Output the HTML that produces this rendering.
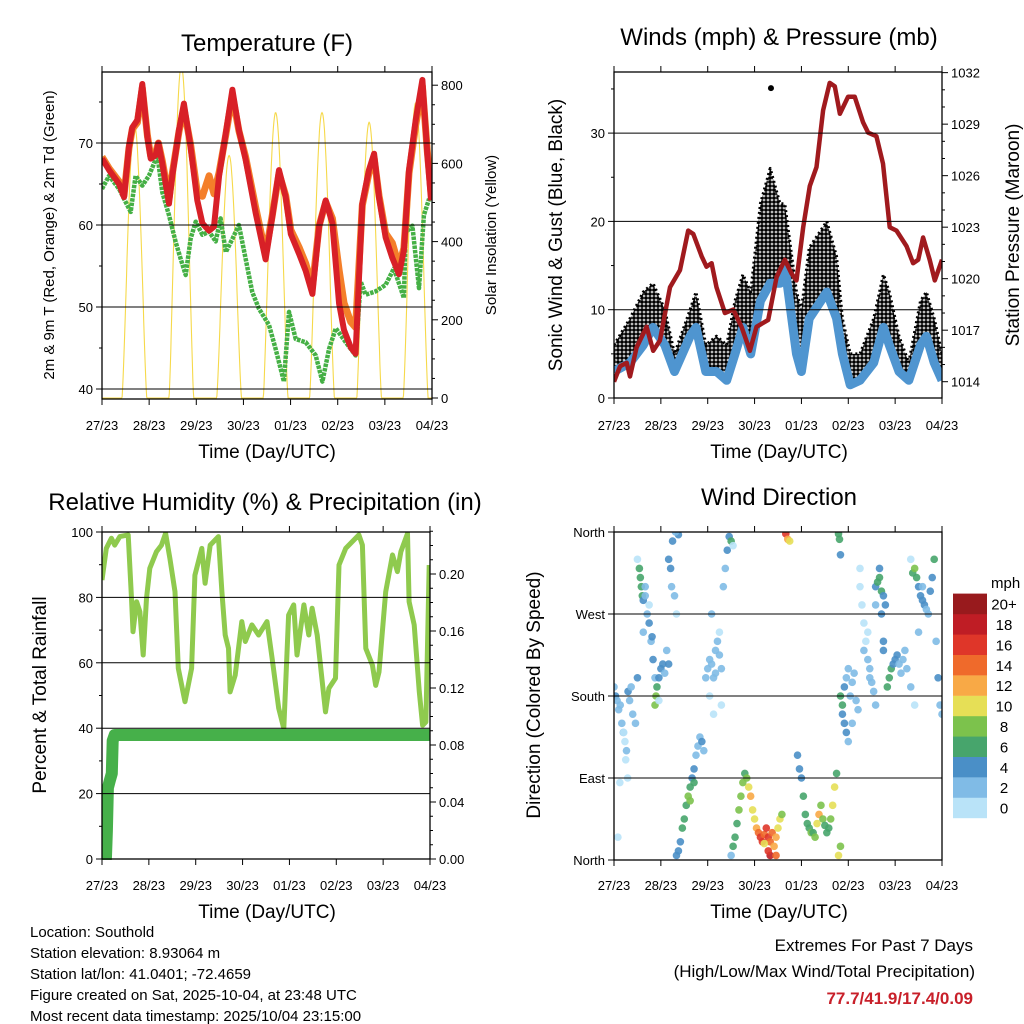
<!DOCTYPE html>
<html><head><meta charset="utf-8">
<style>
html,body{margin:0;padding:0;background:#fff;}
svg{display:block;font-family:"Liberation Sans",Arial,sans-serif;}
</style></head>
<body>
<svg id="root" width="1024" height="1024" viewBox="0 0 1024 1024" xmlns="http://www.w3.org/2000/svg">
<defs>
<clipPath id="cT"><rect x="102" y="72" width="330" height="327"/></clipPath>
<clipPath id="cW"><rect x="614" y="72" width="328" height="326"/></clipPath>
<clipPath id="cR"><rect x="102" y="532" width="328" height="328"/></clipPath>
<clipPath id="cD"><rect x="614" y="532" width="328" height="328"/></clipPath>
<pattern id="dots" width="4" height="4" patternUnits="userSpaceOnUse"><rect width="4" height="4" fill="#fff"/><circle cx="2" cy="2" r="1.9" fill="#000"/></pattern>
</defs>
<g id="layer"></g>
<text x="267" y="51" font-size="24" text-anchor="middle">Temperature (F)</text>
<text x="779" y="45" font-size="24" text-anchor="middle">Winds (mph) &amp; Pressure (mb)</text>
<text x="265" y="510" font-size="24" text-anchor="middle">Relative Humidity (%) &amp; Precipitation (in)</text>
<text x="779" y="505" font-size="24" text-anchor="middle">Wind Direction</text>
<text x="267" y="458" font-size="19" text-anchor="middle">Time (Day/UTC)</text>
<text x="779" y="458" font-size="19" text-anchor="middle">Time (Day/UTC)</text>
<text x="267" y="918" font-size="19" text-anchor="middle">Time (Day/UTC)</text>
<text x="779" y="918" font-size="19" text-anchor="middle">Time (Day/UTC)</text>
<text transform="translate(54,235) rotate(-90)" font-size="15" text-anchor="middle">2m &amp; 9m T (Red, Orange) &amp; 2m Td (Green)</text>
<text transform="translate(496,235) rotate(-90)" font-size="15" text-anchor="middle">Solar Insolation (Yellow)</text>
<text transform="translate(562,235) rotate(-90)" font-size="19" text-anchor="middle">Sonic Wind &amp; Gust (Blue, Black)</text>
<text transform="translate(1019,235) rotate(-90)" font-size="19" text-anchor="middle">Station Pressure (Maroon)</text>
<text transform="translate(46,695) rotate(-90)" font-size="19" text-anchor="middle">Percent &amp; Total Rainfall</text>
<text transform="translate(540,695) rotate(-90)" font-size="19" text-anchor="middle">Direction (Colored By Speed)</text>
<text x="991" y="588" font-size="15">mph</text>
<g font-size="15">
<text x="30" y="937">Location: Southold</text>
<text x="30" y="958">Station elevation: 8.93064 m</text>
<text x="30" y="979">Station lat/lon: 41.0401; -72.4659</text>
<text x="30" y="1000">Figure created on Sat, 2025-10-04, at 23:48 UTC</text>
<text x="30" y="1021">Most recent data timestamp: 2025/10/04 23:15:00</text>
</g>
<text x="973" y="951" font-size="17" text-anchor="end">Extremes For Past 7 Days</text>
<text x="975" y="977" font-size="17" text-anchor="end">(High/Low/Max Wind/Total Precipitation)</text>
<text x="973" y="1004" font-size="17" font-weight="bold" fill="#c8202a" text-anchor="end">77.7/41.9/17.4/0.09</text>
</svg>
<script>
// ---------- data ----------
const dayLabels = ["27/23","28/23","29/23","30/23","01/23","02/23","03/23","04/23"];
const tempHours = [0,3.6,8.7,11.2,13.7,15.4,18,20.5,23.1,24.8,27.3,28.7,30.7,34.1,35.8,39.2,41.7,45.1,48.5,51.1,54.5,57,59.6,63,66.4,69.7,73.1,78.2,83.3,86.7,90.1,93.5,96.1,100.3,103.7,107.1,110.5,113.9,117.3,120.7,123.2,126.6,129.1,132.5,135.9,138.5,141,144.4,147.8,151.2,153.7,156.3,159.7,163.1,165.6,167.5];
const temp2m = [68.1,66.7,65,63.4,69.5,71.9,72.8,77.2,70.7,68.1,68.5,70,67.5,62.6,66,71.6,74.8,69.5,63,60.2,59.3,59.8,66,71.2,76.5,71.6,68,61.5,55.8,61,66.7,63.4,58.9,56.5,54.4,51.6,59.8,63,60.2,50.4,47.2,45.1,44.3,62.6,66.7,68.7,63.4,58.5,56,54,56.9,66.7,72.8,77.7,68.7,63];
const temp9m = [68.3,66.9,65.3,63.6,69.3,71.7,72.5,76.7,70.9,68.4,68.8,70,67.8,63.2,66.3,71.4,74.2,69.8,64,63.5,66,63.8,66.4,71,75.8,71.5,68.3,62.2,56.5,61.2,66.3,63.6,59.4,57.3,55.3,52.5,59.9,62.8,60.8,54.5,50.5,48.2,47.5,62.4,66.3,68.2,63.6,59,57.8,55,57.2,66.3,72.2,76.9,69,64];
const dewHours = [0,3.6,8.7,11.2,14.6,17.1,20.5,23.9,28.2,30.7,34.1,37.5,40,42.6,45.1,47.7,51.1,54.5,57.9,60.4,63,66.4,69.7,73.1,76.5,79.9,85,88.4,92.6,95.2,98.6,103.7,108.8,112.2,115.6,119,124.1,129.1,131.7,134.2,139.3,144.4,148.6,153.7,154.6,158,161.4,163.9,166.5];
const dewPoint = [64.4,66,64.4,63.2,61.6,66,64.8,66,68.5,64,61.2,57.9,55.9,53.9,58.3,60.4,58.8,59.2,58,60.8,56.7,58.3,60,55.9,51.8,49.8,47.8,44.9,40.9,49.4,46.1,45.7,44.1,40.9,44.9,47.4,45.7,44.1,53.1,51.5,51.9,52.7,54.7,51.1,59.1,59.9,52.3,61.2,63.2];
const solarPeakHours = [16.5,40.4,64.7,88.4,112,136,159.7];
const solarPeaks = [700,850,620,730,730,705,755];

const windHours = [0,8.2,15,20,26,31,39,42,47,52.5,57.7,62,66,70,75,80,85,87.5,93.5,96,100,109,114,117,121,126,133,138,141,146,151,157,160,164,168];
const windSpeed = [3,4,6,8,6,3,7,8,3,3,2,5,8,5,11,13,13,15,5,3,9,12,9,5,1.5,2,4,8,6,3,2,6,7,4,2];
const windGust = [6,9,12,13,10,5,10,12,6,7,6,11,14,12,22,26,22,22,12,10,17,20,16,9,5,5,9,14,12,7,4,11,12,9,5];
const gustOutlierHour = [80.4];
const gustOutlierValue = [35.1];
const presHours = [0,3.1,6.5,8.2,11.6,16.7,20.1,23.5,28.7,33.8,38,40.6,44.9,47.4,50,52.5,56.8,61.1,65.3,69.6,73,79,83.3,87.5,90.9,93.5,96.9,100.3,103.7,107.1,110.5,113.1,115.7,119.9,123.3,127.6,130.2,134.4,137.8,141.2,144.7,149.8,153.2,155.8,158.3,161.7,164.3,168];
const pressure = [1014,1014.9,1015.1,1014.3,1016,1017.2,1015.8,1016.4,1019.5,1020.5,1022.8,1022.6,1021.3,1020.7,1020.9,1019.5,1018,1018.2,1017.2,1015.8,1017.2,1017.6,1020.1,1021.1,1020.3,1019.9,1023,1025.4,1026.5,1029.8,1031.4,1031.2,1029.6,1030.6,1030.6,1029.1,1028.5,1028.3,1026.7,1023,1022.8,1021.9,1020.9,1021.1,1022.4,1021.1,1019.9,1021.1];

const rhHours = [0,2.2,4.8,6.5,9.1,13.4,15.1,15.9,17.7,19.4,21.1,22.8,24.5,27.9,30.5,32.6,34.8,37.4,39.1,42.5,45.9,47.6,51.1,52.8,55.4,59.6,61.4,63.1,64.8,65.6,68.2,71.6,73.4,76.8,80.2,84.5,87.1,90.5,93.1,95.6,98.2,99.9,103.4,105.9,107.6,110.2,114.5,116.2,119.6,121.4,124.8,131.6,133.4,135.1,138.5,140.2,141.9,145.3,148.8,151.3,153.1,156.5,157.3,159.9,162.5,164.2,165.9,167.6];
const rhValues = [85.3,95,98.1,96,98.6,99.1,79.7,69.5,78.7,75.6,62.4,79.7,88.9,94,96,99.6,91.9,81.7,58.3,48.1,58.3,86.8,95,84.3,96,98.6,81.7,68.5,64.4,51.1,56.2,72.6,66.5,71.6,68.5,72.6,61.4,46.1,39.9,74.6,77.7,62.4,77.7,68.5,76.7,68.5,45,52.2,55.3,89.9,95,99.1,96,64.4,59.3,53.1,57.2,81.7,93,87.9,94,99.5,78.7,71.6,51.1,40.9,41.9,89.9];
const precipHours = [0,2,2.5,3,4,5,5.5,6.5,168];
const precipTotal = [0,0,0.02,0.05,0.055,0.06,0.083,0.087,0.087];

const dirHours = [0,0.8,1.6,2.4,3.2,4,4.8,5.6,6.4,7.2,8,8.8,9.6,6,7,2,3,5,11,12,
 12,13,13.5,14,14.5,15,16,17,18,15,16,18,19,19.5,20,21,
 21,21.5,22,23,24,25,26,27,28,23,
 28,29,29.5,30,31,32,33,31.5,
 32,33,34,35,36,37,38,39,40,41,42,43,44,45,46,41,39,
 47,48,49,50,51,52,53,54,55,54,52,50,56,57,58,59,60,61,49,51,55,
 60,61,62,63,64,65,66,67,68,69,70,71,72,73,
 74,75,76,77,78,79,80,81,82,83,84,85,86,80,79,83,77,88,89,90,
 94,95,96,97,98,99,100,101,102,103,104,105,106,107,108,109,110,111,112,113,114,115,116,
 115,115.5,116,
 116,117,117,118,119,120,121,122,123,124,125,118,119,120,122,
 126,127,128,129,130,131,132,133,128,130,126,131,134,
 134,135,136,137,138,139,136,134,137,138,138,
 140,141,142,143,144,145,146,147,148,149,150,152,154,
 152,153,154,155,156,157,158,159,160,161,162,163,164,158,156,
 165,166,167,168];
const dirDegrees = [190,180,175,165,170,150,140,130,120,185,175,190,160,110,90,25,85,140,150,200,
 330,320,310,300,290,285,290,270,260,250,300,280,240,245,220,200,
 170,180,190,200,210,215,205,230,215,175,
 330,320,300,350,290,270,357,360,
 5,10,20,35,45,60,70,80,90,100,115,125,135,130,120,85,65,
 200,210,220,215,200,230,240,250,210,225,205,270,300,320,340,355,350,345,180,160,170,
 5,15,25,40,55,70,85,95,90,80,70,55,45,35,
 30,25,20,28,35,25,20,30,15,25,35,45,50,5,10,5,18,358,352,350,
 115,100,90,70,50,40,35,30,30,25,40,50,60,45,38,30,35,45,60,80,95,5,15,
 358,352,335,
 180,170,160,150,140,130,180,195,205,175,165,190,200,210,150,
 300,280,260,240,220,200,195,185,230,250,320,210,170,
 300,305,310,295,290,280,320,280,270,240,230,
 190,200,210,215,220,225,215,205,220,230,210,190,170,
 330,315,320,310,300,290,285,280,275,270,295,310,330,300,250,
 240,200,170,160];
const dirSpeeds = [3,4,3,2,3,2,2,1,2,4,3,3,2,1,1,1,1,1,2,4,
 1,6,7,7,6,5,2,3,4,2,3,1,3,4,4,2,
 8,8,7,5,4,4,2,2,4,1,
 4,4,2,4,2,1,4,3,
 4,4,5,6,6,7,8,6,5,4,3,2,2,4,2,6,8,
 2,3,2,3,2,2,2,1,3,3,3,2,3,3,4,4,6,1,1,1,1,
 2,6,7,7,8,9,8,6,9,10,12,10,10,12,
 15,17,16,15,16,16,14,15,12,13,11,10,9,18,17,14,11,16,12,11,
 4,4,5,6,7,6,7,8,7,9,11,12,9,8,7,6,7,9,10,11,6,10,9,
 7,6,4,
 6,6,5,4,4,3,3,2,2,2,2,5,3,2,2,
 1,1,1,1,2,2,3,3,2,1,1,3,2,
 5,6,7,6,5,4,4,3,4,4,4,
 7,7,6,5,4,4,3,3,2,3,2,2,1,
 1,7,8,6,5,4,4,4,3,3,4,5,6,3,2,
 3,4,3,2];
const cbLabels = ["0","2","4","6","8","10","12","14","16","18","20+"];
const cbColors = ["#b9e3f8","#80bbe6","#4a8fc7","#47a56c","#7cc24c","#e6df56","#f8a946","#ef6a2b","#df3629","#bf1d25","#981a1d"];

// ---------- helpers ----------
const NS = "http://www.w3.org/2000/svg";
const layer = document.getElementById("layer");
function el(tag, attrs, parent) {
  const e = document.createElementNS(NS, tag);
  for (const k in attrs) e.setAttribute(k, attrs[k]);
  (parent || layer).appendChild(e);
  return e;
}
function xScale(x0, x1) { return h => x0 + h / 168 * (x1 - x0); }
function pts(xs, ys, fx, fy) { return xs.map((h, i) => fx(h).toFixed(1) + "," + fy(ys[i]).toFixed(1)).join(" "); }

const xT = xScale(102, 432), xW = xScale(614, 942), xR = xScale(102, 430), xD = xScale(614, 942);
const yTemp = v => 389 - (v - 40) * 8.2;
const ySolar = v => 398 - v * 0.391;
const yWind = v => 398 - v * 8.83;
const yPres = v => 381.7 - (v - 1014) * 17.17;
const yRH = v => 859 - v * 3.27;
const yPrec = v => 859 - v * 1425;
const yDir = v => 860 - v / 360 * 328;
const speedColor = s => cbColors[Math.min(10, Math.floor(s / 2))];

function axes(name, x0, y0, x1, y1, xs, leftTicks, leftMinor, leftFn, leftLab, gridVals, rightTicks, rightMinor, rightFn, rightLab, labelY) {
  const g = el("g", {});
  
  
  gridVals.forEach(v => {
    const ln = el("line", {x1: x0, x2: x1, y1: leftFn(v), y2: leftFn(v), stroke: "#000", "stroke-width": 1}, g);
    
    
  });
  const r = el("rect", {x: x0, y: y0, width: x1 - x0, height: y1 - y0, fill: "none", stroke: "#000", "stroke-width": 1.3}, g);
  
  
  for (let d = 0; d <= 7; d++) {
    const x = xs(d * 24);
    el("line", {x1: x, x2: x, y1: y1, y2: y1 + 6, stroke: "#000"}, g);
    el("line", {x1: x, x2: x, y1: y0, y2: y0 - 6, stroke: "#000"}, g);
    const t = el("text", {x: x, y: labelY, "font-size": 13, "text-anchor": "middle"}, g);
    
    
    t.textContent = dayLabels[d];
  }
  leftTicks.forEach((v, i) => {
    const y = leftFn(v);
    el("line", {x1: x0 - 6, x2: x0, y1: y, y2: y, stroke: "#000"}, g);
    const t = el("text", {x: x0 - 9, y: y + 5, "font-size": 13, "text-anchor": "end"}, g);
    
    
    t.textContent = leftLab[i];
  });
  leftMinor.forEach(v => el("line", {x1: x0 - 3, x2: x0, y1: leftFn(v), y2: leftFn(v), stroke: "#000"}, g));
  if (rightTicks) {
    rightTicks.forEach((v, i) => {
      const y = rightFn(v);
      el("line", {x1: x1, x2: x1 + 6, y1: y, y2: y, stroke: "#000"}, g);
      const t = el("text", {x: x1 + 9, y: y + 5, "font-size": 13}, g);
      
      
      t.textContent = rightLab[i];
    });
    rightMinor.forEach(v => el("line", {x1: x1, x2: x1 + 3, y1: rightFn(v), y2: rightFn(v), stroke: "#000"}, g));
  }
}
function range(a, b, s) { const o = []; for (let v = a; v <= b + 1e-9; v += s) o.push(+v.toFixed(4)); return o; }

// ---------- temperature panel ----------
const gT = el("g", {"clip-path": "url(#cT)"});


const solarH = [], solarV = [];
for (let h = 0; h <= 168; h += 0.25) {
  let v = 0;
  solarPeakHours.forEach((p, i) => { const a = (h - p) / 6.3; if (Math.abs(a) < 1) v = solarPeaks[i] * Math.pow(Math.cos(a * Math.PI / 2), 1.3); });
  solarH.push(h); solarV.push(v);
}
const solar = el("polyline", {points: pts(solarH, solarV, xT, ySolar), fill: "none", stroke: "#f6d94a", "stroke-width": 1.1}, gT);


const dew = el("polyline", {points: pts(dewHours, dewPoint, xT, yTemp), fill: "none", stroke: "#45b045", "stroke-width": 4.5, "stroke-dasharray": "3.5 1", "stroke-linejoin": "round"}, gT);


const t9 = el("polyline", {points: pts(tempHours, temp9m, xT, yTemp), fill: "none", stroke: "#f47f2a", "stroke-width": 7, "stroke-linejoin": "round"}, gT);


const t2 = el("polyline", {points: pts(tempHours, temp2m, xT, yTemp), fill: "none", stroke: "#d82027", "stroke-width": 6, "stroke-linejoin": "round"}, gT);


axes("temperature", 102, 72, 432, 399, xT, [40,50,60,70], [45,55,65,75], yTemp, ["40","50","60","70"], [40,50,60,70],
  [0,200,400,600,800], range(50,750,50).filter(v => v % 200), ySolar, ["0","200","400","600","800"], 430);

// ---------- winds panel ----------
const gW = el("g", {"clip-path": "url(#cW)"});


const band = el("polygon", {points: pts(windHours, windGust, xW, yWind) + " " + pts(windHours.slice().reverse(), windSpeed.slice().reverse(), xW, yWind), fill: "url(#dots)", stroke: "#000", "stroke-width": 3, "stroke-dasharray": "2 3", "stroke-linejoin": "round"}, gW);


gustOutlierHour.forEach((h, i) => {
  const c = el("circle", {cx: xW(h), cy: yWind(gustOutlierValue[i]), r: 3, fill: "#000"}, gW);
  
  
});
const sp = el("polyline", {points: pts(windHours, windSpeed, xW, yWind), fill: "none", stroke: "#4f95d0", "stroke-width": 9, "stroke-linejoin": "round"}, gW);


const pr = el("polyline", {points: pts(presHours, pressure, xW, yPres), fill: "none", stroke: "#a01a1e", "stroke-width": 4.5, "stroke-linejoin": "round"}, gW);


axes("winds", 614, 72, 942, 398, xW, [0,10,20,30], [5,15,25,35], yWind, ["0","10","20","30"], [10,20,30],
  [1014,1017,1020,1023,1026,1029,1032], range(1014,1032,1).filter(v => v % 3 !== 1014 % 3), yPres, ["1014","1017","1020","1023","1026","1029","1032"], 430);

// ---------- humidity panel ----------
const gR = el("g", {"clip-path": "url(#cR)"});


const rh = el("polyline", {points: pts(rhHours, rhValues, xR, yRH), fill: "none", stroke: "#8fca4e", "stroke-width": 5, "stroke-linejoin": "round"}, gR);


const pc = el("polyline", {points: pts(precipHours, precipTotal, xR, yPrec), fill: "none", stroke: "#46b04a", "stroke-width": 12, "stroke-linejoin": "round", "stroke-linecap": "round"}, gR);


axes("humidity", 102, 532, 430, 859, xR, [0,20,40,60,80,100], [10,30,50,70,90], yRH, ["0","20","40","60","80","100"], [20,40,60,80],
  [0,0.04,0.08,0.12,0.16,0.20], range(0.01,0.23,0.01).filter(v => Math.round(v*100) % 4), yPrec, ["0.00","0.04","0.08","0.12","0.16","0.20"], 890);

// ---------- wind direction panel ----------
const gD = el("g", {"clip-path": "url(#cD)"});


dirHours.forEach((h, i) => {
  const c = el("circle", {cx: xD(h), cy: yDir(dirDegrees[i]), r: 3.8, fill: speedColor(dirSpeeds[i]), "fill-opacity": 0.9}, gD);
  
  
});
axes("wind-direction", 614, 532, 942, 860, xD, [0,90,180,270,360], [], yDir, ["North","East","South","West","North"], [90,180,270], null, null, null, null, 890);

// colorbar
cbColors.forEach((c, i) => {
  const y = 818 - (i + 1) * 20.4;
  const r = el("rect", {x: 953, y: y, width: 34, height: 20.6, fill: c});
  
  
  const t = el("text", {x: 1004, y: y + 16, "font-size": 15, "text-anchor": "middle"});
  
  
  t.textContent = cbLabels[i];
});
</script>
</body></html>
